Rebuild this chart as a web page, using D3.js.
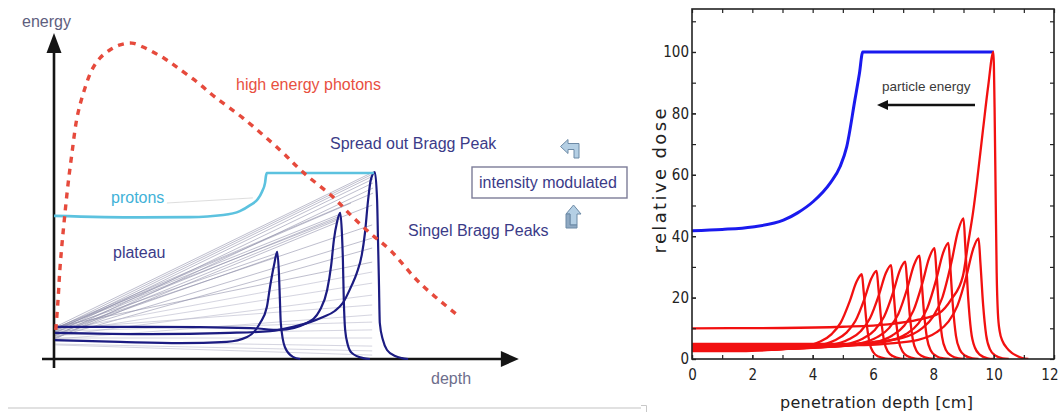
<!DOCTYPE html>
<html><head><meta charset="utf-8">
<script src="https://cdn.jsdelivr.net/npm/d3@7"></script>
<style>body{margin:0;background:#fff}svg{display:block}</style>
</head><body>
<svg id="c" width="1059" height="414"></svg>
<script>
// ---------------- LEFT PANEL DATA (arbitrary units: depth 0..100, energy 0..100) ----------------
const photonDepth  = [0.4,0.9,1.3,1.8,2.4,3.1,4.0,5.1,6.4,8.4,10.2,12.4,14.7,17.3,19.8,22.4,24.7,27.3,31.8,35.8,42.0,50.2,55.3,62.0,66.4,70.2,74.7,81.3,89.6];
const photonEnergy = [9.7,19.7,29.7,38.7,48.0,58.0,68.7,80.3,88.0,96.3,100.3,103.0,104.7,105.3,104.0,102.0,100.0,97.3,92.3,87.3,80.3,69.7,62.3,54.0,47.3,42.0,36.3,25.3,14.7];

const protonDepth  = [0,19.1,30.2,37.6,41.3,43.6,45.3,46.2,46.9,47.1,47.3,71.1];
const protonEnergy = [47.7,47.2,47.3,48,49.3,51.3,53.3,55.7,58.7,61,62,62];

const bragg1Depth  = [0.2,14.7,28,38.4,42.9,45.8,47.3,48,48.9,49.6,50,50.2,50.4,51.3,53.1,54.7];
const bragg1Energy = [6.3,5.7,5.3,5.7,7.3,12,17.3,24,31.3,35.7,28,19.7,12,4,0.7,0];
const bragg2Depth  = [0.2,21.3,43.6,50.2,56.2,59.1,60.7,61.6,62.2,62.9,63.6,64,64.2,64.4,64.7,65.3,66.2,68.7,70.2];
const bragg2Energy = [10.7,10.7,10.3,9.7,12,16.3,23,31.3,39.7,45.7,48.7,41.3,33,19.7,9.7,4.7,2,0.3,0];
const bragg3Depth  = [0.2,21.3,39.1,48,53.1,56.9,59.8,62.4,64.2,66.2,67.3,68.4,69.1,69.8,70.4,71.3,71.8,72,72.2,72.4,73.1,74,75.8,77.3,78.7];
const bragg3Energy = [8.7,8.3,8.7,9.3,10.7,12.3,14,16,18.7,24.7,28.7,34.7,42,53,59.7,62.3,53,39.7,26.3,12,6.3,3,1,0.3,0];

const fanStartEnergy = [10.7,10.0,9.3,8.7,7.7,6.7,10.3,9.0,8.0,7.0,10.0,9.0,8.0,7.3,9.7,8.3,10.7,9.3,8.7,7.7,10.0,6.7,9.3,8.0,7.0,6.0,5.0,4.7,10.3,9.7];
const fanEndDepth    = [70.9,70.9,70.9,70.9,70.9,70.9,63.6,63.6,63.6,63.2,70.7,70.7,70.7,70.7,49.6,49.6,70.7,70.7,70.7,70.7,70.7,70.7,70.7,70.7,70.7,70.7,70.7,70.7,70.9,66.0];
const fanEndEnergy   = [62.3,61.7,61.0,60.0,58.7,57.0,48.3,47.7,46.7,45.7,51.3,44.7,40.3,37.0,35.3,34.3,32.3,29.0,25.3,21.3,18.0,14.7,12.3,9.7,7.0,4.3,2.7,1.3,55.3,52.0];

// ---------------- RIGHT PANEL DATA (depth cm, relative dose) ----------------
const xTicksRight = [0,2,4,6,8,10,12];
const yTicksRight = [0,20,40,60,80,100];

const sobpDepth = [0,1,2,3.03,3.5,4.02,4.58,4.91,5.13,5.4,5.55,5.66,10.0];
const sobpDose  = [41.8,42.2,43,45.2,47.6,51.3,57.3,62.7,69.2,84.4,93,100,100];

const red1 = [[0,2.6],[1.63,2.6],[2.63,2.98],[3.63,3.85],[4.23,5.6],[4.63,8.1],[4.93,11.85],[5.23,18.85],[5.45,25.1],[5.63,27.6],[5.69,22.1],[5.78,12.4],[5.88,5.5],[6.01,2.2],[6.18,0.8],[6.43,0.14],[6.63,0]];
const red2 = [[0,2.9],[2.12,2.9],[3.12,3.29],[4.12,4.19],[4.72,6.0],[5.12,8.58],[5.42,12.45],[5.72,19.67],[5.94,26.12],[6.12,28.7],[6.18,22.96],[6.27,12.9],[6.37,5.74],[6.5,2.3],[6.67,0.86],[6.92,0.14],[7.12,0]];
const red3 = [[0,3.1],[2.6,3.1],[3.6,3.51],[4.6,4.48],[5.2,6.4],[5.6,9.15],[5.9,13.28],[6.2,20.98],[6.42,27.85],[6.6,30.6],[6.66,24.48],[6.75,13.77],[6.85,6.12],[6.98,2.45],[7.15,0.92],[7.4,0.15],[7.6,0]];
const red4 = [[0,3.3],[3.07,3.3],[4.07,3.73],[5.07,4.72],[5.67,6.71],[6.07,9.55],[6.37,13.81],[6.67,21.76],[6.89,28.86],[7.07,31.7],[7.13,25.36],[7.22,14.27],[7.32,6.34],[7.45,2.54],[7.62,0.95],[7.87,0.16],[8.07,0]];
const red5 = [[0,3.5],[3.54,3.5],[4.54,3.95],[5.54,5.01],[6.14,7.12],[6.54,10.14],[6.84,14.67],[7.14,23.13],[7.36,30.68],[7.54,33.7],[7.6,26.96],[7.69,15.17],[7.79,6.74],[7.92,2.7],[8.09,1.01],[8.34,0.17],[8.54,0]];
const red6 = [[0,3.8],[4.04,3.8],[5.04,4.28],[6.04,5.42],[6.64,7.68],[7.04,10.91],[7.34,15.75],[7.64,24.8],[7.86,32.87],[8.04,36.1],[8.1,28.88],[8.19,16.25],[8.29,7.22],[8.42,2.89],[8.59,1.08],[8.84,0.18],[9.04,0]];
const red7 = [[0,4.1],[4.5,4.1],[5.5,4.61],[6.5,5.79],[7.1,8.14],[7.5,11.51],[7.8,16.57],[8.1,26.0],[8.32,34.43],[8.5,37.8],[8.56,30.24],[8.65,17.01],[8.75,7.56],[8.88,3.02],[9.05,1.13],[9.3,0.19],[9.5,0]];
const red8 = [[0,4.9],[5.0,4.9],[6.0,5.51],[7.0,6.95],[7.6,9.81],[8.0,13.9],[8.3,20.03],[8.6,31.49],[8.82,41.71],[9.0,45.8],[9.06,36.64],[9.15,20.61],[9.25,9.16],[9.38,3.66],[9.55,1.37],[9.8,0.23],[10.0,0]];
const red9 = [[0,4.5],[5.5,4.5],[6.5,5.02],[7.5,6.24],[8.1,8.68],[8.5,12.16],[8.8,17.38],[9.1,27.12],[9.32,35.82],[9.5,39.3],[9.56,31.44],[9.65,17.69],[9.75,7.86],[9.88,3.14],[10.05,1.18],[10.3,0.2],[10.5,0]];
const red10 = [[0,10],[3,10.1],[5,10.5],[6.5,11.3],[7.5,12.8],[8.2,15],[8.6,19.5],[8.98,27],[9.15,37.5],[9.32,48],[9.45,58],[9.65,75],[9.82,89],[9.99,100],[10.03,82],[10.07,50],[10.1,28],[10.14,15],[10.2,9],[10.3,5.7],[10.42,3.8],[10.6,2],[10.78,1],[10.95,0.3],[11.15,0]];
const redCurves = [red1,red2,red3,red4,red5,red6,red7,red8,red9,red10];

// ---------------- DRAW ----------------
const svg = d3.select("#c");
svg.append("rect").attr("width",1059).attr("height",414).attr("fill","#fff");

const LF = "'Liberation Sans', Arial, sans-serif";

// Left scales
const xL = d3.scaleLinear().domain([0,100]).range([54,504]);
const yL = d3.scaleLinear().domain([0,100]).range([359,59]);
const zipL = (a,b)=>a.map((v,i)=>[v,b[i]]);

const gL = svg.append("g");

// fan lines
gL.selectAll("line.fan").data(fanStartEnergy.map((s,i)=>({s, ex:fanEndDepth[i], ey:fanEndEnergy[i], i})))
  .join("line").attr("class","fan")
  .attr("x1",xL(0.3)).attr("y1",d=>yL(d.s))
  .attr("x2",d=>xL(d.ex)).attr("y2",d=>yL(d.ey))
  .attr("stroke",d=>d.ey>30?"#8c8ca8":"#b4b4c8").attr("stroke-width",0.7).attr("opacity",0.8);
// faint line next to protons label
gL.append("line").attr("x1",xL(25.1)).attr("y1",yL(52)).attr("x2",xL(44.2)).attr("y2",yL(53.7))
  .attr("stroke","#d4d4d4").attr("stroke-width",0.8);

// axes with arrows
const x0 = xL(0), y0 = yL(0);
gL.append("line").attr("x1",x0).attr("y1",y0+9).attr("x2",x0).attr("y2",yL(104)).attr("stroke","#151515").attr("stroke-width",2.6);
gL.append("path").attr("d",`M${x0},${yL(108.7)}L${x0-7.5},${yL(102)}L${x0+7.5},${yL(102)}Z`).attr("fill","#151515");
gL.append("line").attr("x1",x0-12).attr("y1",y0).attr("x2",xL(101.5)).attr("y2",y0).attr("stroke","#151515").attr("stroke-width",2.6);
gL.append("path").attr("d",`M${xL(103.3)},${y0}L${xL(99.3)},${y0-8}L${xL(99.3)},${y0+8}Z`).attr("fill","#151515");

// bragg curves (navy)
const curveM = d3.line().x(d=>xL(d[0])).y(d=>yL(d[1])).curve(d3.curveMonotoneX);
[[bragg1Depth,bragg1Energy],[bragg2Depth,bragg2Energy],[bragg3Depth,bragg3Energy]].forEach(([a,b])=>{
  gL.append("path").attr("d",curveM(zipL(a,b))).attr("fill","none").attr("stroke","#1c1c82").attr("stroke-width",2.2);
});

// protons
gL.append("path").attr("d",curveM(zipL(protonDepth,protonEnergy))).attr("fill","none")
  .attr("stroke","#5cc2df").attr("stroke-width",2.6);

// photons
const curveC = d3.line().x(d=>xL(d[0])).y(d=>yL(d[1])).curve(d3.curveCatmullRom);
gL.append("path").attr("d",curveC(zipL(photonDepth,photonEnergy))).attr("fill","none")
  .attr("stroke","#e64a3c").attr("stroke-width",3.4).attr("stroke-dasharray","6,6");

// texts
const txt = (x,y,s,c)=>gL.append("text").attr("x",x).attr("y",y).text(s)
  .attr("font-family",LF).attr("font-size",16).attr("fill",c);
txt(22,27,"energy","#5e5e7e");
txt(431,384,"depth","#6e6e8c");
txt(236,90,"high energy photons","#e8503f");
txt(330,149,"Spread out Bragg Peak","#3b3b88");
txt(111,203,"protons","#42b2d8");
txt(113,258,"plateau","#3b3b88");
txt(408,236,"Singel Bragg Peaks","#3b3b88");
gL.append("rect").attr("x",472).attr("y",167).attr("width",155).attr("height",31)
  .attr("fill","#fff").attr("stroke","#7c7c98").attr("stroke-width",1.4);
txt(479,188,"intensity modulated","#3b3b88");

// small arrow icons
gL.append("path").attr("d","M579,158L579,143.5L568,143.5L568,139.5L560.5,146.5L568,153.5L568,149.5L574,149.5L574,158Z")
  .attr("fill","#b4cfe4").attr("stroke","#6d8aa6").attr("stroke-width",1);
gL.append("path").attr("d","M573.5,205L581,214L577,214L577,225L570,225L570,214L566,214Z")
  .attr("fill","#b4cfe4").attr("stroke","#6d8aa6").attr("stroke-width",1);
gL.append("path").attr("d","M566,214L566,228L577,228L577,225L570,225L570,214Z")
  .attr("fill","#8fa9c2").attr("stroke","#6d8aa6").attr("stroke-width",1);

// bottom separator line
svg.append("line").attr("x1",8).attr("y1",408).attr("x2",641).attr("y2",408).attr("stroke","#c4c4c4").attr("stroke-width",1.2);
svg.append("path").attr("d","M641,405.5L646.5,405.5L646.5,412").attr("fill","none").attr("stroke","#c8c8c8").attr("stroke-width",1);

// ---------------- RIGHT PANEL ----------------
const xR = d3.scaleLinear().domain([0,12]).range([692,1054]);
const yR = d3.scaleLinear().domain([0,114]).range([359,9]);
const gR = svg.append("g");
const TF = "'DejaVu Sans Condensed','DejaVu Sans',sans-serif";

gR.append("clipPath").attr("id","clipR").append("rect")
  .attr("x",xR(0)).attr("y",yR(114)).attr("width",xR(12)-xR(0)).attr("height",yR(0)-yR(114));

const lineR = d3.line().x(d=>xR(d[0])).y(d=>yR(d[1])).curve(d3.curveMonotoneX);
const plot = gR.append("g").attr("clip-path","url(#clipR)");
plot.append("path").attr("d",lineR(sobpDepth.map((v,i)=>[v,sobpDose[i]]))).attr("fill","none")
  .attr("stroke","#1a1aee").attr("stroke-width",3);
plot.selectAll("path.red").data(redCurves).join("path").attr("class","red")
  .attr("d",d=>lineR(d)).attr("fill","none").attr("stroke","#f21010").attr("stroke-width",2.3);

// ticks (inward, all four sides)
const minorX = d3.range(0,13,1), minorY = d3.range(0,114,10);
gR.append("g").attr("transform",`translate(0,${yR(0)})`)
  .call(d3.axisBottom(xR).tickValues(xTicksRight).tickSize(-4).tickPadding(10).tickFormat(d3.format("d")));
gR.append("g").attr("transform",`translate(0,${yR(0)})`).call(d3.axisBottom(xR).tickValues(minorX).tickSize(-4).tickFormat(""));
gR.append("g").attr("transform",`translate(0,${yR(114)})`).call(d3.axisTop(xR).tickValues(minorX).tickSize(-4).tickFormat(""));
gR.append("g").attr("transform",`translate(${xR(0)},0)`)
  .call(d3.axisLeft(yR).tickValues(yTicksRight).tickSize(-4).tickPadding(3).tickFormat(d3.format("d")));
gR.append("g").attr("transform",`translate(${xR(0)},0)`).call(d3.axisLeft(yR).tickValues(minorY).tickSize(-4).tickFormat(""));
gR.append("g").attr("transform",`translate(${xR(12)},0)`).call(d3.axisRight(yR).tickValues(minorY).tickSize(-4).tickFormat(""));
gR.selectAll(".domain").remove();
gR.selectAll(".tick line").attr("stroke","#222").attr("stroke-width",1.2);
gR.selectAll(".tick text").attr("font-family",TF).attr("font-stretch","condensed").attr("font-size",15).attr("fill","#222");
// keep the last x label ("12") inside the window, as in the reference
gR.selectAll(".tick text").filter(d=>d===12).attr("text-anchor","end").attr("x",4);

gR.append("rect").attr("x",xR(0)).attr("y",yR(114)).attr("width",xR(12)-xR(0)).attr("height",yR(0)-yR(114))
  .attr("fill","none").attr("stroke","#222").attr("stroke-width",1.6);

// axis titles
gR.append("text").attr("x",876.5).attr("y",408).attr("text-anchor","middle")
  .attr("font-family","'DejaVu Sans',sans-serif").attr("font-size",16).attr("fill","#222")
  .attr("textLength",193).attr("lengthAdjust","spacing").text("penetration depth [cm]");
gR.append("text").attr("transform","translate(666,181) rotate(-90)").attr("text-anchor","middle")
  .attr("font-family","'DejaVu Sans',sans-serif").attr("font-size",18).attr("fill","#222")
  .attr("textLength",145).attr("lengthAdjust","spacing").text("relative dose");

// annotation
gR.append("text").attr("x",882).attr("y",91).attr("font-family",LF).attr("font-size",13.5).attr("fill","#3a3a3a").text("particle energy");
gR.append("line").attr("x1",975).attr("y1",105).attr("x2",886).attr("y2",105).attr("stroke","#111").attr("stroke-width",2.6);
gR.append("path").attr("d","M877,105L888,100L888,110Z").attr("fill","#111");
</script>
</body></html>
